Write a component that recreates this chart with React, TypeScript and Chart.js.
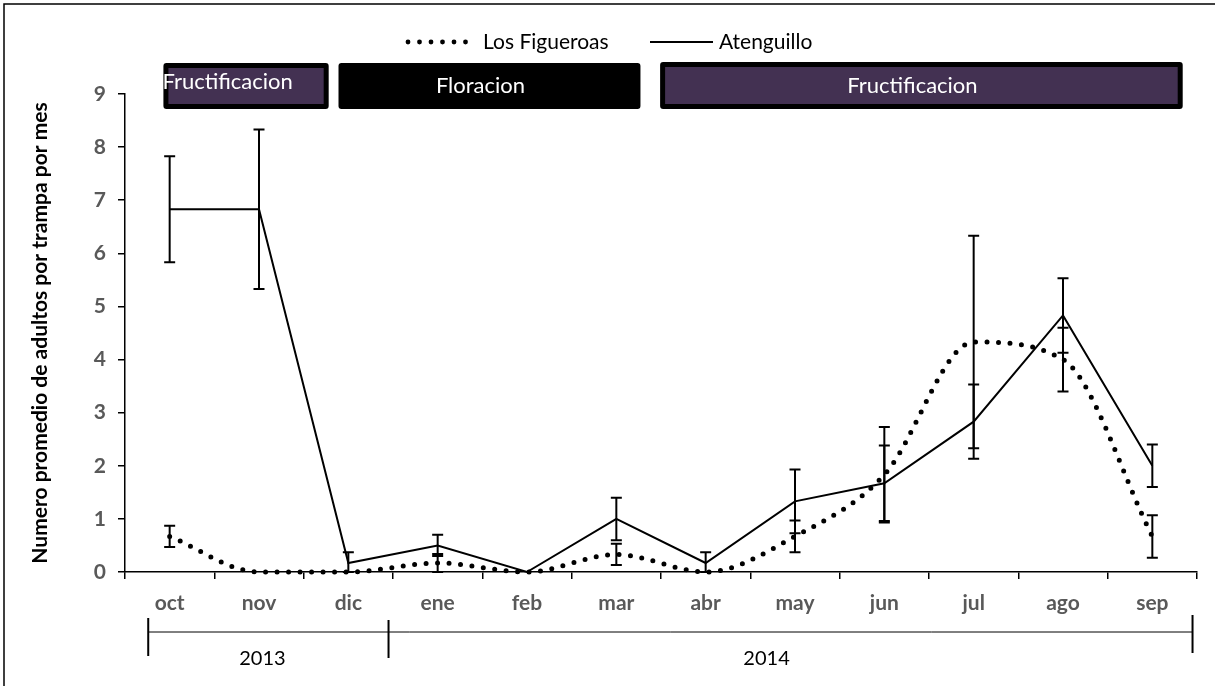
import React, { useEffect, useRef } from 'react';
import { Chart, registerables } from 'chart.js';

Chart.register(...registerables);

const W = 1215;
const H = 686;

const months = ['oct', 'nov', 'dic', 'ene', 'feb', 'mar', 'abr', 'may', 'jun', 'jul', 'ago', 'sep'];
const yTicks = [0, 1, 2, 3, 4, 5, 6, 7, 8, 9];
const figueroas = [0.67, 0, 0, 0.17, 0, 0.33, 0, 0.67, 1.83, 4.33, 4.0, 0.67];
const figueroasErr = [0.2, 0, 0, 0.17, 0, 0.2, 0, 0.3, 0.9, 2.0, 0.6, 0.4];
const atenguillo = [6.83, 6.83, 0.17, 0.5, 0, 1.0, 0.17, 1.33, 1.67, 2.83, 4.83, 2.0];
const atenguilloErr = [1.0, 1.5, 0.2, 0.2, 0, 0.4, 0.2, 0.6, 0.71, 0.7, 0.7, 0.4];

const seriesNames = ['Los Figueroas', 'Atenguillo'];
const phaseLabels = ['Fructificacion', 'Floracion', 'Fructificacion'];
const yearLabels = ['2013', '2014'];
const yTitle = 'Numero promedio de adultos por trampa por mes';

const FONT = 'Lato, "Open Sans", sans-serif';
const PURPLE = '#433152';
const GREY = '#595959';

const overlay = {
  id: 'overlay',
  afterDatasetsDraw(chart: any) {
    const ctx = chart.ctx;
    const xs = chart.scales.x;
    const ys = chart.scales.y;
    const series = [
      { v: figueroas, e: figueroasErr },
      { v: atenguillo, e: atenguilloErr },
    ];
    ctx.save();
    ctx.strokeStyle = '#000';
    ctx.lineWidth = 2;
    ctx.setLineDash([]);
    series.forEach((s) => {
      s.v.forEach((v, i) => {
        const err = s.e[i];
        if (!err) return;
        const x = xs.getPixelForValue(i);
        const y1 = ys.getPixelForValue(v + err);
        const y2 = ys.getPixelForValue(Math.max(0, v - err));
        ctx.beginPath();
        ctx.moveTo(x, y1);
        ctx.lineTo(x, y2);
        ctx.moveTo(x - 5.5, y1);
        ctx.lineTo(x + 5.5, y1);
        ctx.moveTo(x - 5.5, y2);
        ctx.lineTo(x + 5.5, y2);
        ctx.stroke();
      });
    });
    ctx.restore();
  },
  afterDraw(chart: any) {
    const ctx = chart.ctx;
    const xs = chart.scales.x;
    ctx.save();

    // outer border (top & left visible)
    ctx.strokeStyle = '#000';
    ctx.lineWidth = 1.5;
    ctx.beginPath();
    ctx.moveTo(4, H + 2);
    ctx.lineTo(4, 4);
    ctx.lineTo(W + 2, 4);
    ctx.stroke();

    // legend
    const ly = 42;
    ctx.fillStyle = '#000';
    for (let k = 0; k < 6; k++) {
      ctx.beginPath();
      ctx.arc(408 + k * 11.5, ly, 2.4, 0, Math.PI * 2);
      ctx.fill();
    }
    ctx.font = `21px ${FONT}`;
    ctx.textBaseline = 'middle';
    ctx.textAlign = 'left';
    ctx.fillText(seriesNames[0], 483, ly);
    ctx.lineWidth = 2;
    ctx.beginPath();
    ctx.moveTo(650, ly);
    ctx.lineTo(713, ly);
    ctx.stroke();
    ctx.fillText(seriesNames[1], 719, ly);

    // phase boxes
    const boxes = [
      { a: -0.07, b: 1.78, fill: PURPLE, text: phaseLabels[0], align: 'left' },
      { a: 1.89, b: 5.27, fill: '#000', text: phaseLabels[1], align: 'center' },
      { a: 5.49, b: 11.34, fill: PURPLE, text: phaseLabels[2], align: 'center' },
    ];
    boxes.forEach((bx, idx) => {
      const x1 = xs.getPixelForValue(bx.a);
      const x2 = xs.getPixelForValue(bx.b);
      const top = idx === 2 ? 62 : 63;
      const bot = 109;
      ctx.fillStyle = '#000';
      ctx.beginPath();
      (ctx as any).roundRect(x1, top, x2 - x1, bot - top, 3);
      ctx.fill();
      ctx.fillStyle = bx.fill;
      ctx.fillRect(x1 + 5, top + 5, x2 - x1 - 10, bot - top - 10);
      ctx.fillStyle = '#fff';
      ctx.font = `22px ${FONT}`;
      ctx.textBaseline = 'middle';
      if (bx.align === 'left') {
        ctx.textAlign = 'left';
        ctx.fillText(bx.text, x1 - 1, 82);
      } else {
        ctx.textAlign = 'center';
        ctx.fillText(bx.text, (x1 + x2) / 2 - 9, 86);
      }
    });

    // year bracket
    const xL = xs.getPixelForValue(-0.24);
    const xM = xs.getPixelForValue(2.45);
    const xR = xs.getPixelForValue(11.45);
    ctx.strokeStyle = '#000';
    ctx.lineWidth = 1;
    ctx.beginPath();
    ctx.moveTo(xL, 632);
    ctx.lineTo(xR, 632);
    ctx.stroke();
    ctx.lineWidth = 2;
    ctx.beginPath();
    ctx.moveTo(xL, 618);
    ctx.lineTo(xL, 656);
    ctx.moveTo(xM, 620);
    ctx.lineTo(xM, 658);
    ctx.moveTo(xR, 615);
    ctx.lineTo(xR, 653);
    ctx.stroke();
    ctx.fillStyle = '#000';
    ctx.font = `20px ${FONT}`;
    ctx.textAlign = 'center';
    ctx.textBaseline = 'middle';
    ctx.fillText(yearLabels[0], (xL + xM) / 2 - 6, 659);
    ctx.fillText(yearLabels[1], (xM + xR) / 2 - 24, 659);

    // y title
    ctx.translate(40, 333);
    ctx.rotate(-Math.PI / 2);
    ctx.font = `bold 21px ${FONT}`;
    ctx.fillText(yTitle, 0, 0);
    ctx.restore();
  },
};

export default function App() {
  const ref = useRef<HTMLCanvasElement | null>(null);
  useEffect(() => {
    if (!ref.current) return;
    const chart = new Chart(ref.current, {
      type: 'line',
      data: {
        labels: months,
        datasets: [
          {
            label: seriesNames[0],
            data: figueroas,
            borderColor: '#000',
            borderWidth: 5,
            borderDash: [0, 11.5],
            borderCapStyle: 'round',
            pointRadius: 0,
            cubicInterpolationMode: 'monotone',
            clip: false,
          } as any,
          {
            label: seriesNames[1],
            data: atenguillo,
            borderColor: '#000',
            borderWidth: 2,
            pointRadius: 0,
            tension: 0,
            clip: false,
          } as any,
        ],
      },
      options: {
        animation: false,
        responsive: false,
        devicePixelRatio: 1,
        layout: { padding: { top: 94, right: 18, left: 0, bottom: 0 } },
        plugins: { legend: { display: false }, tooltip: { enabled: false } },
        scales: {
          x: {
            type: 'category',
            offset: true,
            afterFit: (s: any) => { s.height = 114; },
            border: { color: '#000', width: 1.5 },
            grid: { offset: true, drawOnChartArea: false, drawTicks: true, tickLength: 7, color: '#000', lineWidth: 1.5 },
            ticks: { color: GREY, font: { family: FONT, size: 21, weight: 'bold' }, padding: 12, maxRotation: 0 },
          },
          y: {
            min: 0,
            max: 9,
            afterFit: (s: any) => { s.width = 125; },
            afterBuildTicks: (s: any) => { s.ticks = yTicks.map((v) => ({ value: v })); },
            border: { color: '#000', width: 1.5 },
            grid: { drawOnChartArea: false, drawTicks: true, tickLength: 7, color: '#000', lineWidth: 1.5 },
            ticks: { color: GREY, font: { family: FONT, size: 21, weight: 'bold' }, padding: 12 },
          },
        },
      },
      plugins: [overlay],
    });
    return () => chart.destroy();
  }, []);
  return (
    <div style={{ position: 'fixed', left: 0, top: 0, width: W, height: H, background: '#fff' }}>
      <canvas ref={ref} width={W} height={H} style={{ display: 'block', width: W, height: H }} />
    </div>
  );
}
